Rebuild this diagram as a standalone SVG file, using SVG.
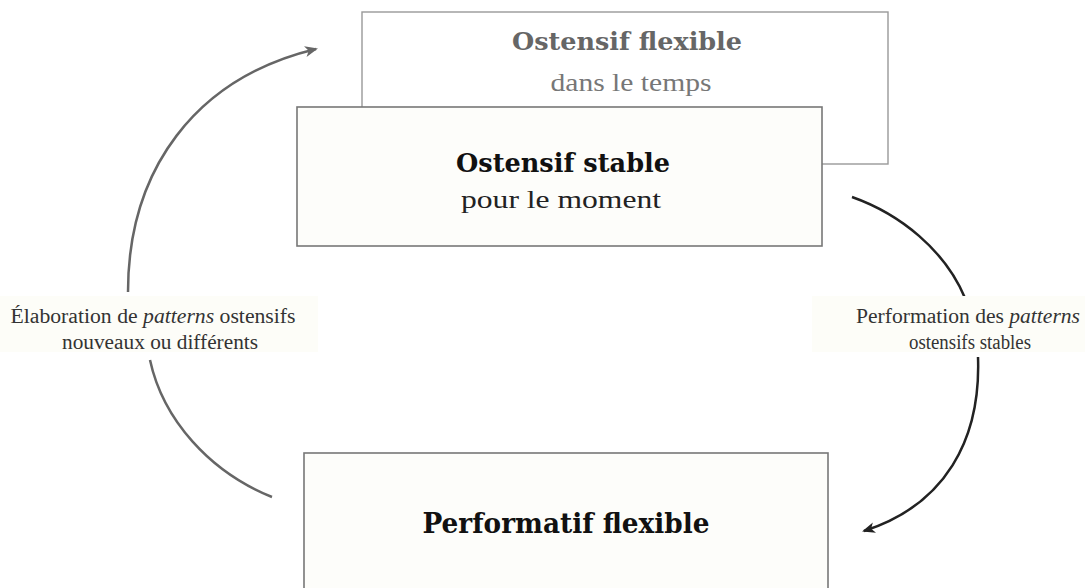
<svg xmlns="http://www.w3.org/2000/svg" width="1085" height="588" viewBox="0 0 1085 588">
<style>
.t{font-family:"Liberation Serif","DejaVu Serif",serif;text-anchor:middle}
.b{font-family:"DejaVu Serif","Liberation Serif",serif;font-weight:bold}
.box{fill:#fdfdfa;stroke:#777;stroke-width:1.6}
.lbl{font-size:20px;fill:#333}
</style>
<defs>
<marker id="ag" markerWidth="13" markerHeight="11" refX="11" refY="5.5" orient="auto" markerUnits="userSpaceOnUse"><path d="M0,0 L13,5.5 L0,11 L3.5,5.5 Z" fill="#666"/></marker>
<marker id="ak" markerWidth="13" markerHeight="11" refX="11" refY="5.5" orient="auto" markerUnits="userSpaceOnUse"><path d="M0,0 L13,5.5 L0,11 L3.5,5.5 Z" fill="#222"/></marker>
</defs>
<rect width="1085" height="588" fill="#fff"/>
<g id="connectors" fill="none">
<path d="M128,292 C128,170 195,78 316,49" stroke="#666" stroke-width="2.5" marker-end="url(#ag)"/>
<path d="M150,360 C163,420 210,472 272,497" stroke="#666" stroke-width="2.5"/>
<path d="M852,197 C900,214 945,250 965,298" stroke="#222" stroke-width="2.5"/>
<path d="M978,357 C981,440 945,505 864,531" stroke="#222" stroke-width="2.5" marker-end="url(#ak)"/>
</g>
<g id="node-flexible">
<rect x="362" y="12" width="526" height="152" fill="#fff" stroke="#999" stroke-width="1.4"/>
<text class="t b" x="627" y="50" font-size="25" fill="#666" textLength="230" lengthAdjust="spacingAndGlyphs">Ostensif flexible</text>
<text class="t" x="631" y="91" font-size="26" fill="#777" textLength="161" lengthAdjust="spacingAndGlyphs">dans le temps</text>
</g>
<g id="node-stable">
<rect class="box" x="297" y="107" width="525" height="139"/>
<text class="t b" x="563" y="172" font-size="26" fill="#111" textLength="214" lengthAdjust="spacingAndGlyphs">Ostensif stable</text>
<text class="t" x="561" y="208" font-size="26" fill="#222" textLength="200" lengthAdjust="spacingAndGlyphs">pour le moment</text>
</g>
<g id="node-performatif">
<rect class="box" x="304" y="453" width="524" height="140"/>
<text class="t b" x="566" y="533" font-size="27" fill="#111" textLength="287" lengthAdjust="spacingAndGlyphs">Performatif flexible</text>
</g>
<g id="label-left">
<rect x="0" y="296" width="318" height="56" fill="#fdfdf8"/>
<text class="t lbl" x="153" y="323" textLength="285" lengthAdjust="spacingAndGlyphs">Élaboration de <tspan font-style="italic">patterns</tspan> ostensifs</text>
<text class="t lbl" x="160" y="349" textLength="196" lengthAdjust="spacingAndGlyphs">nouveaux ou différents</text>
</g>
<g id="label-right">
<rect x="812" y="296" width="273" height="56" fill="#fdfdf8"/>
<text class="t lbl" x="968" y="323" textLength="224" lengthAdjust="spacingAndGlyphs">Performation des <tspan font-style="italic">patterns</tspan></text>
<text class="t lbl" x="970" y="349" textLength="122" lengthAdjust="spacingAndGlyphs">ostensifs stables</text>
</g>
</svg>
